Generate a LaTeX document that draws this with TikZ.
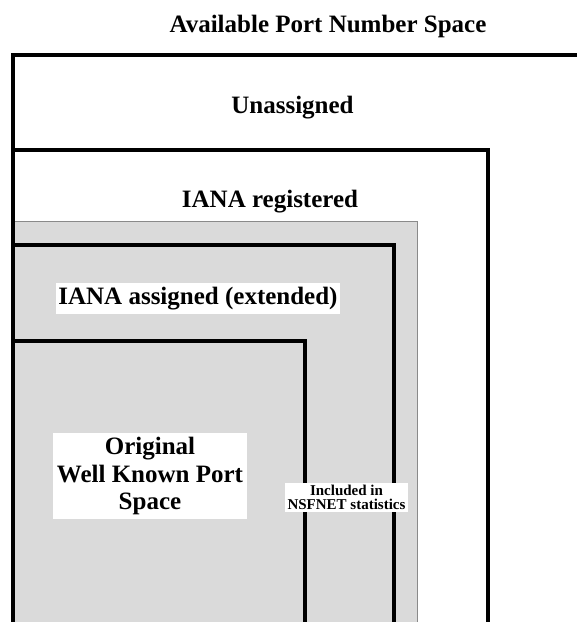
\documentclass[tikz,border=0pt]{standalone}
\usepackage{fontspec}
\setmainfont{Liberation Serif}
\definecolor{fillgray}{HTML}{DADADA}
\definecolor{edgegray}{HTML}{8A8A8A}
\begin{document}
\begin{tikzpicture}[x=1pt, y=-1pt, wall/.style={line width=4pt}, big/.style={font=\fontsize{25}{27.5}\selectfont\bfseries}, tag/.style={big, fill=white, inner xsep=2pt, inner ysep=4pt},]
    \useasboundingbox (0,0) rectangle (577,622);
    \clip (0,0) rectangle (577,622);
    \filldraw[fill=fillgray, draw=edgegray, line width=1pt] (12.5,221) rectangle (417,630);
    \draw[wall] (580,55) -- (12.5,55) -- (12.5,630);
    \draw[wall] (12.5,150) -- (488,150) -- (488,630);
    \draw[wall] (12.5,245) -- (394,245) -- (394,630);
    \draw[wall] (12.5,341) -- (305,341) -- (305,630);
    \node[big, anchor=base] (title) at (328,32) {Available Port Number Space};
    \node[big, anchor=base] (unassigned) at (292.5,113) {Unassigned};
    \node[big, anchor=base] (registered) at (270,207) {IANA registered};
    \node[tag, anchor=base] (assigned) at (198,304) {IANA assigned (extended)};
    \node[tag, align=center, inner xsep=4pt] (original) at (150,476) {Original\\Well Known Port\\Space};
    \node[fill=white, align=center, inner xsep=2.5pt, inner ysep=2pt, font=\fontsize{15}{14}\selectfont\bfseries] (nsfnet) at (346.5,497.5) {Included in\\NSFNET statistics};
\end{tikzpicture}
\end{document}
